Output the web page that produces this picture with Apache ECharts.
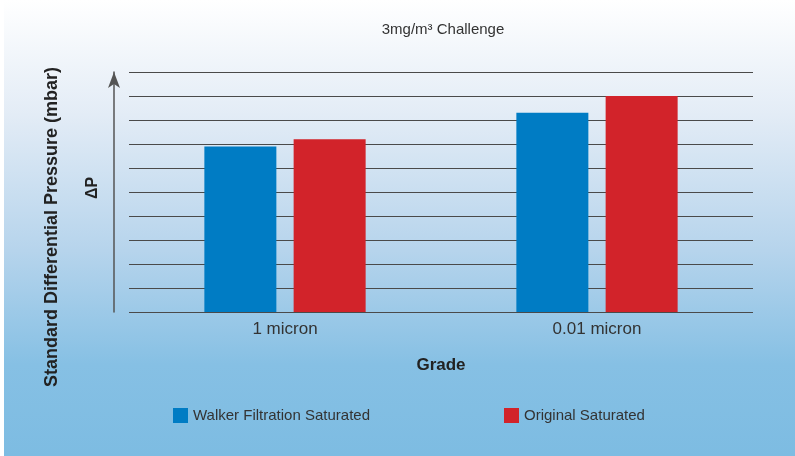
<!DOCTYPE html>
<html><head><meta charset="utf-8">
<script src="https://cdn.jsdelivr.net/npm/echarts@6/dist/echarts.min.js"></script>
<style>html,body{margin:0;padding:0;background:#fff}#c{width:795px;height:456px}</style>
</head><body><div id="c"></div>
<script>
var categories = ['1 micron', '0.01 micron'];
var walker = [6.9, 8.3];
var original = [7.2, 9.0];
var seriesNames = ['Walker Filtration Saturated', 'Original Saturated'];
var yTitle = 'Standard Differential Pressure (mbar)';
var ySymbol = 'ΔP';

var chart = echarts.init(document.getElementById('c'), null, {renderer: 'canvas'});
var FONT = 'Liberation Sans';
chart.setOption({
  animation: false,
  textStyle: {fontFamily: FONT},
  graphic: [
    {type: 'rect', z: -10, left: 4, top: 0, shape: {width: 791, height: 456},
     style: {fill: new echarts.graphic.LinearGradient(0, 0, 0, 1, [
       {offset: 0, color: '#ffffff'},
       {offset: 0.25, color: '#e3ecf6'},
       {offset: 0.55, color: '#b6d4ec'},
       {offset: 0.8, color: '#86c0e4'},
       {offset: 1, color: '#7dbce2'}])}},
    {type: 'text', x: 52, y: 227, rotation: Math.PI / 2,
     style: {text: yTitle, font: 'bold 18px ' + FONT, fill: '#222', align: 'center', verticalAlign: 'middle'}},
    {type: 'text', x: 93, y: 188, rotation: Math.PI / 2,
     style: {text: ySymbol, font: 'bold 16px ' + FONT, fill: '#222', align: 'center', verticalAlign: 'middle'}}
  ],
  title: {text: '3mg/m³ Challenge', left: 438, textAlign: 'center', top: 17,
    textStyle: {fontSize: 15, fontWeight: 'normal', color: '#333', fontFamily: FONT}},
  legend: {
    data: seriesNames, left: 168, top: 403, itemWidth: 15, itemHeight: 15,
    icon: 'rect', itemGap: 134,
    textStyle: {fontSize: 15, color: '#333', fontFamily: FONT}
  },
  grid: {left: 129, right: 42, top: 72, bottom: 144},
  xAxis: {
    type: 'category', data: categories,
    axisLine: {show: false}, axisTick: {show: false},
    axisLabel: {fontSize: 17, color: '#333', margin: 9},
    name: 'Grade', nameLocation: 'middle', nameGap: 45,
    nameTextStyle: {fontSize: 17, fontWeight: 'bold', color: '#222'}
  },
  yAxis: {
    type: 'value', min: 0, max: 10, interval: 1, offset: 15,
    axisLine: {show: true, symbol: ['none', 'arrow'], symbolSize: [9, 16], symbolOffset: [0, 0],
      lineStyle: {color: '#555', width: 1.5}},
    axisTick: {show: false}, axisLabel: {show: false},
    splitLine: {show: true, lineStyle: {color: '#4a4a4a', width: 1.2}}
  },
  series: [
    {name: seriesNames[0], type: 'bar', data: walker, barWidth: 72, barGap: '24%',
     itemStyle: {color: '#007cc4'}},
    {name: seriesNames[1], type: 'bar', data: original, barWidth: 72,
     itemStyle: {color: '#d2232a'}}
  ]
});
</script></body></html>
